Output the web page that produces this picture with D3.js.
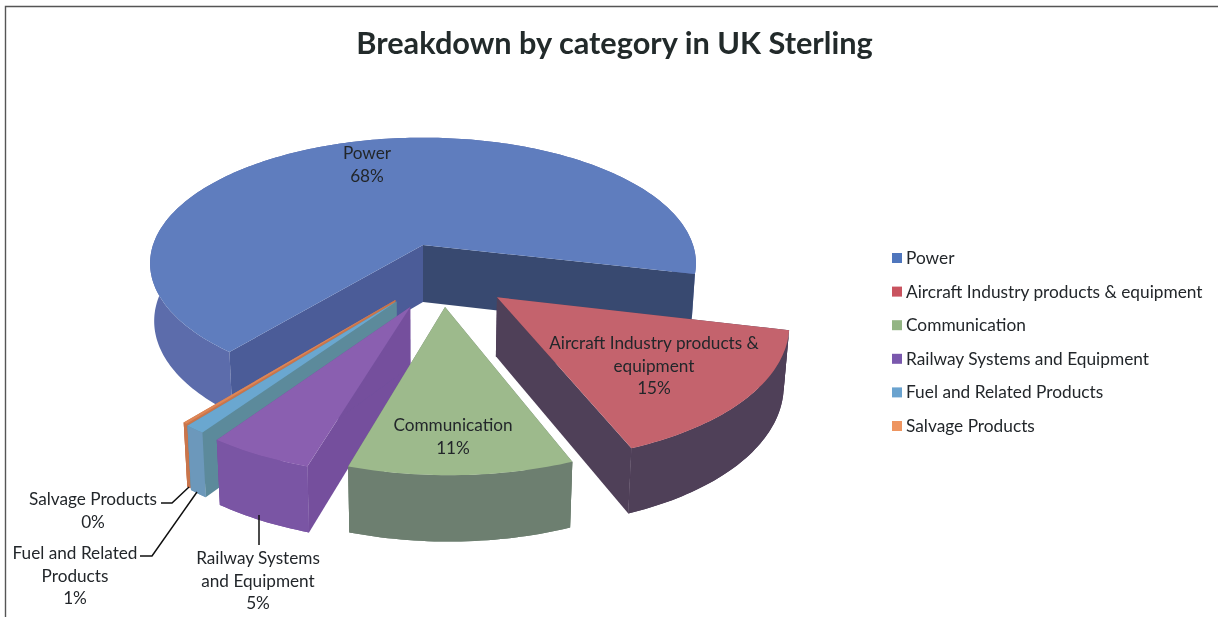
<!DOCTYPE html>
<html><head><meta charset="utf-8">
<style>html,body{margin:0;padding:0;background:#fff}svg{display:block}</style>
<script src="https://cdn.jsdelivr.net/npm/d3@7/dist/d3.min.js"></script>
</head><body>
<svg id="c" width="1218" height="617"></svg>
<script>
// ---- data ----
const categories = ["Power","Aircraft Industry products & equipment","Communication","Railway Systems and Equipment","Fuel and Related Products","Salvage Products"];
const shares = [67.7,15.4,10.7,5.0,1.0,0.2];
const chartTitle = "Breakdown by category in UK Sterling";
const labelLines = [["Power"],["Aircraft Industry products &","equipment"],["Communication"],["Railway Systems","and Equipment"],["Fuel and Related","Products"],["Salvage Products"]];
// ---- styles ----
const topColors = ["#5f7dbe","#c4646d","#9dba8c","#8a5fb0","#6aa7d0","#dd8656"];
const outerColors = ["#5b6cab","#4f3f58","#6d7f70","#7a55a4","#6c98bb","#c9744c"];
const radialColors = [["#4b5c98","#394a70"],["#4f3f58","#4f3f58"],["#6d7f70","#6d7f70"],["#74509d","#74509d"],["#5c8a9b","#5c8a9b"],["#c9744c","#c9744c"]];
const legendColors = ["#4f76bd","#c9525f","#93b584","#7a58ad","#6ba3cf","#ee9560"];
// ---- layout ----
const W=1218,H=617,cx=423,cy=245,Rx=270,Ry=123,k=0.146,depth=57;
const explode=[[0,0],[0.258,0.40],[0.076,0.47],[-0.044,0.47],[-0.092,0.43],[-0.096,0.42]];
const paintOrder=[0,5,4,3,2,1];
const labelPos=[[367,153],[654,343],[453,425],[258,558],[75,553],[93,499]];
const legendY=d3.scalePoint().domain(categories).range([258,426]);
const leaders=[[[189,487],[172,503],[161,503]],[[197,492],[152,556],[140,556]],[[259,515],[259,545]]];

const svg=d3.select("#c");
const defs=svg.append("defs");
defs.append("filter").attr("id","scan").attr("filterUnits","userSpaceOnUse").attr("x",0).attr("y",0).attr("width",W).attr("height",H)
  .append("feGaussianBlur").attr("stdDeviation",0.7);
const root=svg.append("g").attr("filter","url(#scan)");
root.append("rect").attr("width",W).attr("height",H).attr("fill","#fff");
// frame
root.append("path").attr("d","M5.5,617V6.5H1218").attr("fill","none").attr("stroke","#555").attr("stroke-width",1.4);

const fmtPct=d3.format(".0%");
const total=d3.sum(shares);
const arcs=d3.pie().sort(null).startAngle(-140.5*Math.PI/180).endAngle(-140.5*Math.PI/180+2*Math.PI)(shares);

function proj(u,v,bottom){
  const s=1/(1-k*v);
  const x=cx+u*Rx*s, y=cy+v*Ry*s;
  if(!bottom) return [x,y];
  return [cx+(x-cx)*0.985, y+depth*(1+(s-1)*0.6)];
}
const line=d3.line().x(d=>d[0]).y(d=>d[1]);
function rim(a0,a1,off,bottom){
  const n=Math.max(2,Math.ceil(Math.abs(a1-a0)/0.02));
  return d3.range(n+1).map(i=>{
    const a=a0+(a1-a0)*i/n;
    return proj(Math.sin(a)+off[0],-Math.cos(a)+off[1],bottom);
  });
}
const pieG=root.append("g");
paintOrder.forEach(i=>{
  const d=arcs[i], o=explode[i], g=pieG.append("g");
  const a=d.startAngle,b=d.endAngle;
  const apexT=proj(o[0],o[1],false), apexB=proj(o[0],o[1],true);
  const topArc=rim(a,b,o,false), botArc=rim(a,b,o,true);
  const wall=line(topArc.concat(botArc.slice().reverse()))+"Z";
  g.append("path").attr("d",wall).attr("fill",outerColors[i]);
  [[a,0],[b,1]].forEach(([ang,w])=>{
    const t=rim(ang,ang,o,false)[0], bt=rim(ang,ang,o,true)[0];
    g.append("path").attr("d",line([apexT,t,bt,apexB])+"Z").attr("fill",radialColors[i][w]);
  });
  // the exploded front slices show their rim in front of their side walls
  if(i>0) g.append("path").attr("d",wall).attr("fill",outerColors[i]);
  g.append("path").attr("d",line([apexT].concat(topArc))+"Z").attr("fill",topColors[i]);
});
// leaders
root.append("g").selectAll("path").data(leaders).join("path")
  .attr("d",d=>line(d)).attr("fill","none").attr("stroke","#111").attr("stroke-width",1.5);
// data labels
const font="Lato, Carlito, sans-serif";
const lab=root.append("g").attr("font-family",font).attr("font-size",17.2).attr("text-anchor","middle").attr("fill","#23272b");
categories.forEach((c,i)=>{
  const t=labelLines[i].concat([fmtPct(shares[i]/total)]);
  t.forEach((s,j)=>{
    lab.append("text").attr("x",labelPos[i][0]).attr("y",labelPos[i][1]+j*22.7+6).text(s);
  });
});
// title
root.append("text").attr("x",614.5).attr("y",54).attr("text-anchor","middle").attr("font-family",font)
  .attr("font-weight",700).attr("font-size",30.7).attr("fill","#232b2c").text(chartTitle);
// legend
const leg=root.append("g").selectAll("g").data(categories).join("g").attr("transform",d=>`translate(0,${legendY(d)})`);
leg.append("rect").attr("x",892).attr("y",-5).attr("width",10).attr("height",10).attr("fill",(d,i)=>legendColors[i]);
leg.append("text").attr("x",906).attr("y",6).attr("font-family",font).attr("font-size",17.3).attr("fill","#23272b").text(d=>d);
</script>
</body></html>
